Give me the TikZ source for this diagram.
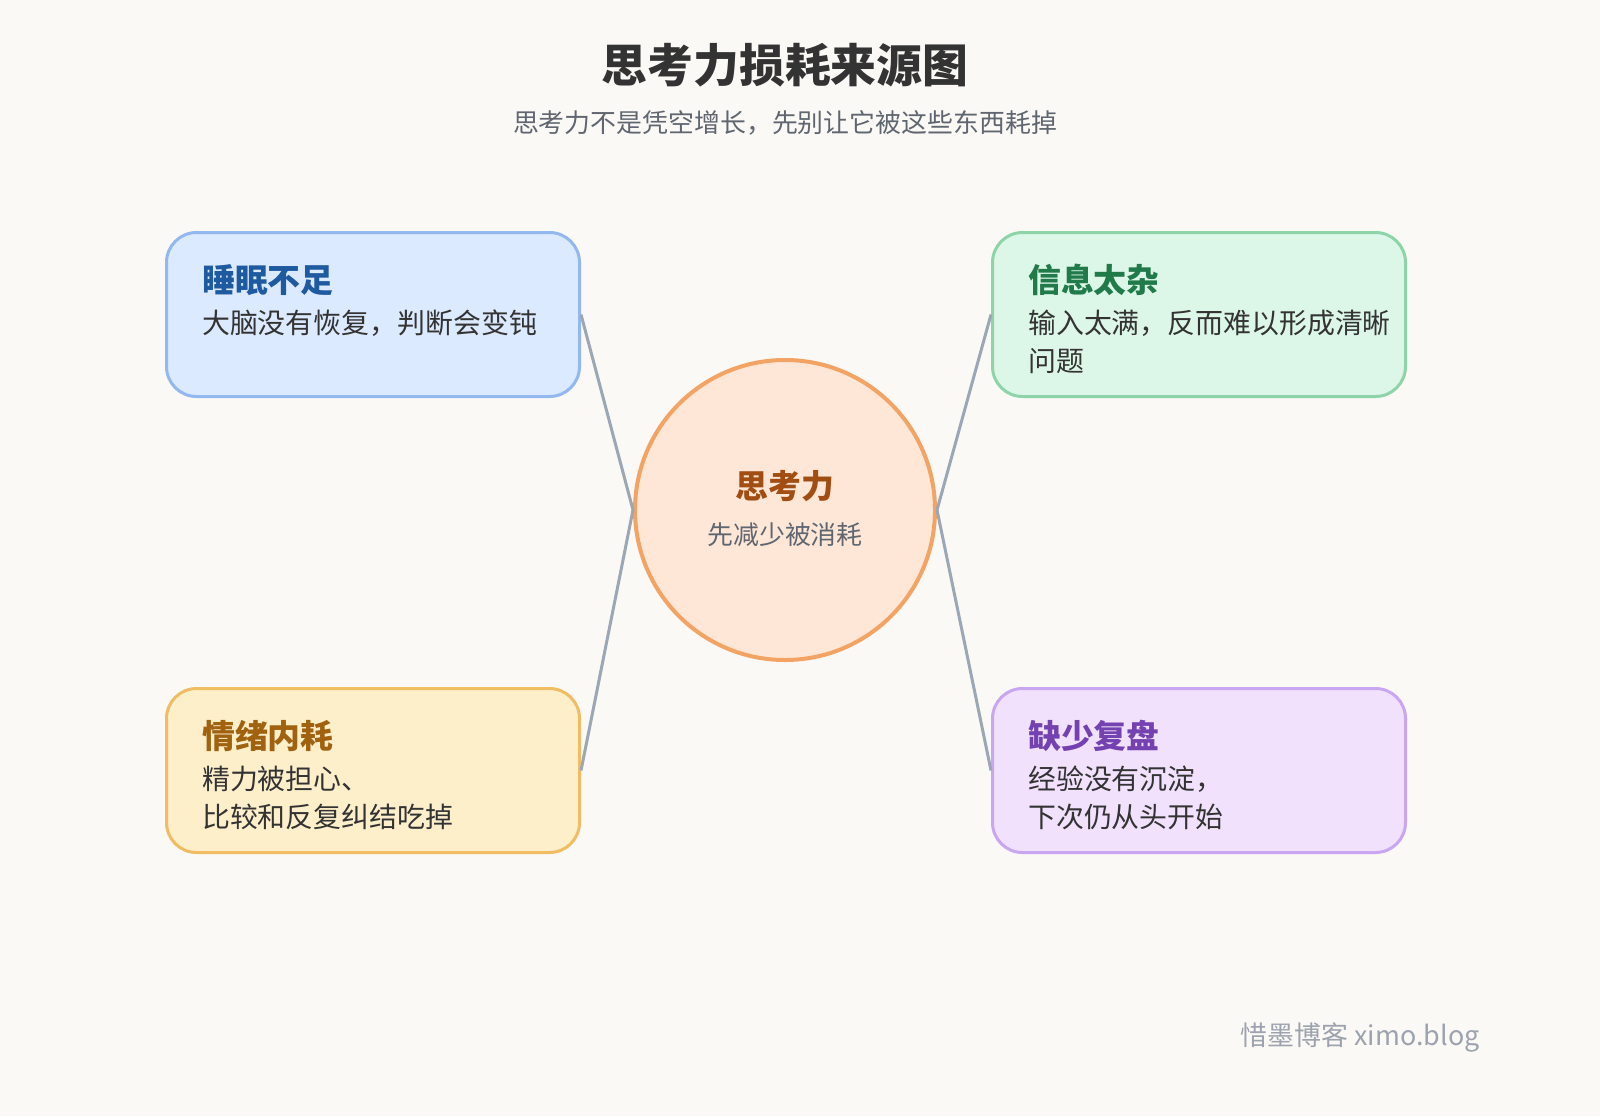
\documentclass[tikz,border=0pt]{standalone}
\usepackage{fontspec}
\setmainfont{Noto Sans CJK SC}
\usetikzlibrary{positioning}
\definecolor{bgc}{HTML}{FBF9F5}
\definecolor{linec}{HTML}{9CA7B6}
\definecolor{txtc}{HTML}{333333}
\definecolor{subc}{HTML}{5F6670}
\definecolor{corefill}{HTML}{FEE7D6}
\definecolor{coredraw}{HTML}{F3A363}
\definecolor{corehd}{HTML}{A24E12}
\definecolor{bluefill}{HTML}{DBEAFE}
\definecolor{bluedraw}{HTML}{93B8F0}
\definecolor{bluehd}{HTML}{1E5AA0}
\definecolor{greenfill}{HTML}{DCF7E7}
\definecolor{greendraw}{HTML}{8DD5A8}
\definecolor{greenhd}{HTML}{217A4A}
\definecolor{yellowfill}{HTML}{FEEFCB}
\definecolor{yellowdraw}{HTML}{F1BD62}
\definecolor{yellowhd}{HTML}{A0620F}
\definecolor{purplefill}{HTML}{F1E1FD}
\definecolor{purpledraw}{HTML}{C8A6F1}
\definecolor{purplehd}{HTML}{7342B0}
\definecolor{markc}{HTML}{9CA3AF}
\tikzset{
  card/.style={rectangle,rounded corners=30bp,line width=3bp,minimum width=413bp,minimum height=164bp,anchor=north west},
  head/.style={anchor=west,inner sep=0pt,font=\fontsize{33}{38}\selectfont\bfseries},
  body/.style={anchor=north west,inner sep=0pt,align=left,text=txtc,font=\fontsize{28}{38}\selectfont},
  link/.style={draw=linec,line width=3bp}
}
\begin{document}
\begin{tikzpicture}[x=1bp,y=-1bp]
  \fill[bgc] (0,0) rectangle (1600,1116);
  \useasboundingbox (0,0) rectangle (1600,1116);
  % titles
  \node[font=\fontsize{46}{50}\selectfont\bfseries,text=txtc] (title) at (785,65) {思考力损耗来源图};
  \node[font=\fontsize{26}{30}\selectfont,text=subc] (sub) at (785,123) {思考力不是凭空增长，先别让它被这些东西耗掉};
  % centre
  \node[circle,minimum size=300bp,fill=corefill,draw=coredraw,line width=4bp] (core) at (785,510) {};
  \node[font=\fontsize{33}{38}\selectfont\bfseries,text=corehd] (corehead) at (785,486) {思考力};
  \node[font=\fontsize{26}{30}\selectfont,text=subc] (corebody) at (785,535) {先减少被消耗};
  % cards
  \node[card,fill=bluefill,draw=bluedraw] (sleep) at (165,231) {};
  \node[card,fill=greenfill,draw=greendraw] (info) at (991,231) {};
  \node[card,fill=yellowfill,draw=yellowdraw] (mood) at (165,687) {};
  \node[card,fill=purplefill,draw=purpledraw] (review) at (991,687) {};
  \node[head,text=bluehd] (sleephead) at (202,280) {睡眠不足};
  \node[body] (sleepbody) at (202,310) {大脑没有恢复，判断会变钝};
  \node[head,text=greenhd] (infohead) at (1028,280) {信息太杂};
  \node[body] (infobody) at (1028,310) {输入太满，反而难以形成清晰\\问题};
  \node[head,text=yellowhd] (moodhead) at (202,736) {情绪内耗};
  \node[body] (moodbody) at (202,766) {精力被担心、\\比较和反复纠结吃掉};
  \node[head,text=purplehd] (reviewhead) at (1028,736) {缺少复盘};
  \node[body] (reviewbody) at (1028,766) {经验没有沉淀，\\下次仍从头开始};
  % links
  \draw[link] (sleep.east) -- (core.west);
  \draw[link] (mood.east) -- (core.west);
  \draw[link] (info.west) -- (core.east);
  \draw[link] (review.west) -- (core.east);
  % mark
  \node[anchor=east,font=\fontsize{27}{30}\selectfont,text=markc] (mark) at (1483,1037) {惜墨博客 ximo.blog};
\end{tikzpicture}
\end{document}
